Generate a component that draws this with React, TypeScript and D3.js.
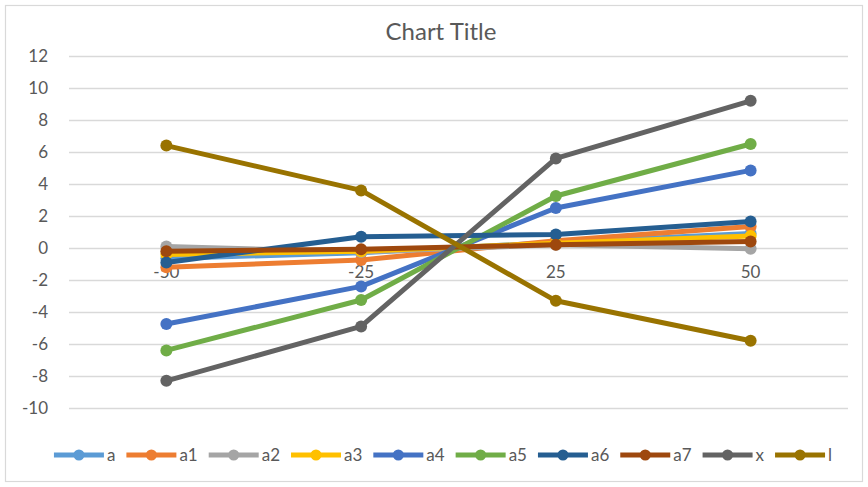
import React, { useEffect, useRef } from "react";
import * as d3 from "d3";

const categories = ["-50", "-25", "25", "50"];
const yTicks = [-10, -8, -6, -4, -2, 0, 2, 4, 6, 8, 10, 12];
const seriesNames = ["a", "a1", "a2", "a3", "a4", "a5", "a6", "a7", "x", "l"];
const seriesColors = ["#5B9BD5", "#ED7D31", "#A5A5A5", "#FFC000", "#4472C4", "#70AD47", "#255E91", "#9E480E", "#636363", "#997300"];
const valA = [-0.65, -0.3, 0.35, 0.9];
const valA1 = [-1.2, -0.75, 0.45, 1.35];
const valA2 = [0.1, -0.25, 0.2, -0.05];
const valA3 = [-0.4, -0.2, 0.3, 0.75];
const valA4 = [-4.75, -2.4, 2.5, 4.85];
const valA5 = [-6.4, -3.25, 3.25, 6.5];
const valA6 = [-0.9, 0.7, 0.85, 1.65];
const valA7 = [-0.2, -0.08, 0.2, 0.4];
const valX = [-8.3, -4.9, 5.6, 9.2];
const valL = [6.4, 3.6, -3.3, -5.8];
const seriesValues = [valA, valA1, valA2, valA3, valA4, valA5, valA6, valA7, valX, valL];

const W = 868;
const H = 487;
const FONT = "Lato, 'Open Sans', sans-serif";
const TEXT = "#595959";

export default function App() {
  const ref = useRef<SVGSVGElement>(null);
  useEffect(() => {
    const svg = d3.select(ref.current);
    svg.selectAll("*").remove();

    const plotL = 69, plotR = 848;
    const x = d3.scaleBand<string>().domain(categories).range([plotL, plotR]);
    const y = d3.scaleLinear().domain([-10, 12]).range([408, 56]);
    const cx = (c: string) => (x(c) as number) + x.bandwidth() / 2;

    svg.append("rect").attr("x", 0).attr("y", 0).attr("width", W).attr("height", H).attr("fill", "#fff");
    svg.append("rect").attr("x", 5.5).attr("y", 5.5).attr("width", 857).attr("height", 476)
      .attr("fill", "none").attr("stroke", "#d9d9d9").attr("stroke-width", 1.2);

    svg.append("text").attr("x", 441).attr("y", 40).attr("text-anchor", "middle")
      .attr("font-family", FONT).attr("font-size", 24).attr("fill", TEXT).text("Chart Title");

    // gridlines
    svg.append("g").selectAll("line").data(yTicks).join("line")
      .attr("x1", plotL).attr("x2", plotR)
      .attr("y1", d => Math.round(y(d)) + 0.5).attr("y2", d => Math.round(y(d)) + 0.5)
      .attr("stroke", "#d9d9d9").attr("stroke-width", 1.3);

    // y labels
    svg.append("g").selectAll("text").data(yTicks).join("text")
      .attr("x", 48).attr("y", d => y(d) + 6).attr("text-anchor", "end")
      .attr("font-family", FONT).attr("font-size", 17).attr("fill", TEXT)
      .text(d => String(d));

    // x labels
    svg.append("g").selectAll("text").data(categories).join("text")
      .attr("x", d => cx(d)).attr("y", y(0) + 30).attr("text-anchor", "middle")
      .attr("font-family", FONT).attr("font-size", 17).attr("fill", TEXT)
      .text(d => d);

    const line = d3.line<number>().x((_, i) => cx(categories[i])).y(d => y(d));
    seriesNames.forEach((name, si) => {
      const g = svg.append("g");
      g.append("path").attr("d", line(seriesValues[si]) as string)
        .attr("fill", "none").attr("stroke", seriesColors[si]).attr("stroke-width", 5)
        .attr("stroke-linejoin", "round").attr("stroke-linecap", "round");
      g.selectAll("circle").data(seriesValues[si]).join("circle")
        .attr("cx", (_, i) => cx(categories[i])).attr("cy", d => y(d)).attr("r", 6)
        .attr("fill", seriesColors[si]);
    });

    // legend
    const lg = svg.append("g");
    const items: { g: any; w: number }[] = [];
    seriesNames.forEach((name, si) => {
      const g = lg.append("g");
      g.append("line").attr("x1", 0).attr("x2", 50).attr("y1", 0).attr("y2", 0)
        .attr("stroke", seriesColors[si]).attr("stroke-width", 5);
      g.append("circle").attr("cx", 25).attr("cy", 0).attr("r", 5.5).attr("fill", seriesColors[si]);
      const t = g.append("text").attr("x", 53).attr("y", 6).attr("font-family", FONT)
        .attr("font-size", 17).attr("fill", TEXT).text(name);
      const tw = (t.node() as SVGTextElement).getComputedTextLength();
      items.push({ g, w: 53 + tw + 11 });
    });
    const total = d3.sum(items, d => d.w) - 11;
    let cur = 443 - total / 2;
    items.forEach(it => {
      it.g.attr("transform", `translate(${cur},455)`);
      cur += it.w;
    });
  }, []);
  return (
    <svg ref={ref} width={W} height={H} style={{ position: "absolute", left: 0, top: 0 }} />
  );
}
